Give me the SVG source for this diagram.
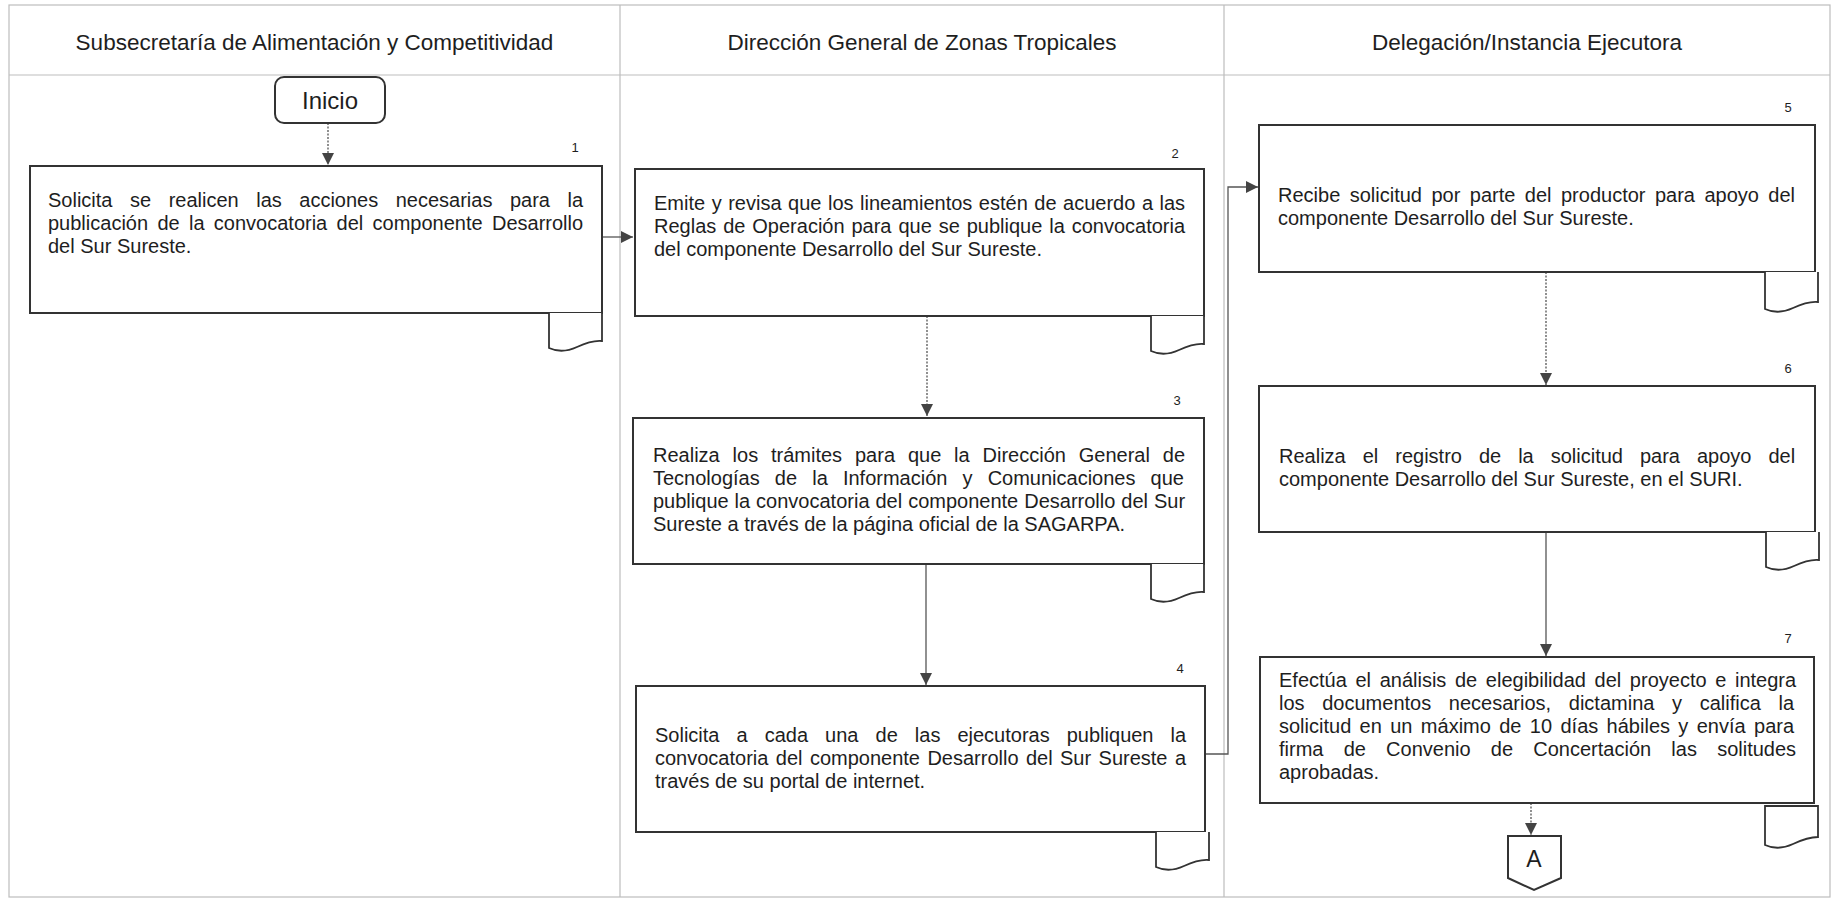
<svg xmlns="http://www.w3.org/2000/svg" width="1837" height="900" viewBox="0 0 1837 900">
<defs>
<style>
.lane{stroke:#bdbdbd;stroke-width:1.2;fill:none}
.box{fill:#fff;stroke:#333;stroke-width:2}
.doc{fill:#fff;stroke:#333;stroke-width:1.8}
.t{font-family:"Liberation Sans",Arial,sans-serif;font-size:20px;fill:#1e1e1e}
.h{font-size:22.5px;text-anchor:middle}
.n{font-size:13px;text-anchor:middle}
.c{stroke:#555;stroke-width:1.3;fill:none;marker-end:url(#ah)}
.dot{stroke-dasharray:2 1.5}
</style>
<marker id="ah" markerUnits="userSpaceOnUse" viewBox="0 0 12 12" refX="12" refY="6" markerWidth="12" markerHeight="12" orient="auto">
<path d="M0,0 L12,6 L0,12 z" fill="#444"/>
</marker>
</defs>
<rect width="1837" height="900" fill="#fff"/>
<g id="lanes">
<rect class="lane" x="9" y="5" width="1821" height="892"/>
<line class="lane" x1="9" y1="75" x2="1830" y2="75"/>
<line class="lane" x1="620" y1="5" x2="620" y2="897"/>
<line class="lane" x1="1224" y1="5" x2="1224" y2="897"/>
<text class="t h" x="314.5" y="50">Subsecretaría de Alimentación y Competitividad</text>
<text class="t h" x="922" y="50">Dirección General de Zonas Tropicales</text>
<text class="t h" x="1527" y="50">Delegación/Instancia Ejecutora</text>
</g>
<g id="connectors">
<path class="c dot" d="M328,123 V165"/>
<path class="c" d="M602,237 H633"/>
<path class="c dot" d="M927,316 V416"/>
<path class="c" d="M926,564 V685"/>
<path class="c" d="M1205,754 H1228 V187 H1258"/>
<path class="c dot" d="M1546,272 V385"/>
<path class="c" d="M1546,532 V656"/>
<path class="c dot" d="M1531,803 V835"/>
</g>
<g id="inicio">
<rect class="box" x="275" y="77" width="110" height="46" rx="9"/>
<text class="t" x="330" y="109" style="font-size:24px" text-anchor="middle">Inicio</text>
</g>
<g id="step1">
<rect class="box" x="30" y="166" width="572" height="147"/>
<path class="doc" d="M549,313 V348 Q562,354 577,347 T602,341 V313"/>
<text class="t n" x="575" y="152">1</text>
<text class="t" x="48" y="207" style="word-spacing:11.96px">Solicita se realicen las acciones necesarias para la</text>
<text class="t" x="48" y="230" style="word-spacing:3.76px">publicación de la convocatoria del componente Desarrollo</text>
<text class="t" x="48" y="253">del Sur Sureste.</text>
</g>
<g id="step2">
<rect class="box" x="635" y="169" width="569" height="147"/>
<path class="doc" d="M1151,316 V351 Q1164,357 1179,350 T1204,344 V316"/>
<text class="t n" x="1175" y="158">2</text>
<text class="t" x="654" y="210" style="word-spacing:0.97px">Emite y revisa que los lineamientos estén de acuerdo a las</text>
<text class="t" x="654" y="233" style="word-spacing:1.34px">Reglas de Operación para que se publique la convocatoria</text>
<text class="t" x="654" y="256">del componente Desarrollo del Sur Sureste.</text>
</g>
<g id="step3">
<rect class="box" x="633" y="418" width="571" height="146"/>
<path class="doc" d="M1151,564 V599 Q1164,605 1179,598 T1204,592 V564"/>
<text class="t n" x="1177" y="405">3</text>
<text class="t" x="653" y="462" style="word-spacing:7.31px">Realiza los trámites para que la Dirección General de</text>
<text class="t" x="653" y="485" style="word-spacing:9.56px">Tecnologías de la Información y Comunicaciones que</text>
<text class="t" x="653" y="508" style="word-spacing:0.41px">publique la convocatoria del componente Desarrollo del Sur</text>
<text class="t" x="653" y="531">Sureste a través de la página oficial de la SAGARPA.</text>
</g>
<g id="step4">
<rect class="box" x="636" y="686" width="569" height="146"/>
<path class="doc" d="M1156,832 V867 Q1169,873 1184,866 T1209,860 V832"/>
<text class="t n" x="1180" y="673">4</text>
<text class="t" x="655" y="742" style="word-spacing:11.49px">Solicita a cada una de las ejecutoras publiquen la</text>
<text class="t" x="655" y="765" style="word-spacing:1.85px">convocatoria del componente Desarrollo del Sur Sureste a</text>
<text class="t" x="655" y="788">través de su portal de internet.</text>
</g>
<g id="step5">
<rect class="box" x="1259" y="125" width="556" height="147"/>
<path class="doc" d="M1765,272 V309 Q1778,315 1793,308 T1818,302 V272"/>
<text class="t n" x="1788" y="112">5</text>
<text class="t" x="1278" y="202" style="word-spacing:3.9px">Recibe solicitud por parte del productor para apoyo del</text>
<text class="t" x="1278" y="225">componente Desarrollo del Sur Sureste.</text>
</g>
<g id="step6">
<rect class="box" x="1259" y="386" width="556" height="146"/>
<path class="doc" d="M1766,532 V567 Q1779,573 1794,566 T1819,560 V532"/>
<text class="t n" x="1788" y="373">6</text>
<text class="t" x="1279" y="463" style="word-spacing:11.43px">Realiza el registro de la solicitud para apoyo del</text>
<text class="t" x="1279" y="486">componente Desarrollo del Sur Sureste, en el SURI.</text>
</g>
<g id="step7">
<rect class="box" x="1260" y="657" width="554" height="146"/>
<path class="doc" d="M1765,806 V845 Q1778,851 1793,844 T1818,837 V806 Z"/>
<text class="t n" x="1788" y="643">7</text>
<text class="t" x="1279" y="687" style="word-spacing:3.07px">Efectúa el análisis de elegibilidad del proyecto e integra</text>
<text class="t" x="1279" y="710" style="word-spacing:12.11px">los documentos necesarios, dictamina y califica la</text>
<text class="t" x="1279" y="733" style="word-spacing:2.81px">solicitud en un máximo de 10 días hábiles y envía para</text>
<text class="t" x="1279" y="756" style="word-spacing:14.66px">firma de Convenio de Concertación las solitudes</text>
<text class="t" x="1279" y="779">aprobadas.</text>
</g>
<g id="connectorA">
<path class="box" d="M1508,836 H1561 V878 L1534,890 L1508,878 Z"/>
<text class="t" x="1534" y="867" style="font-size:23px" text-anchor="middle">A</text>
</g>
</svg>
